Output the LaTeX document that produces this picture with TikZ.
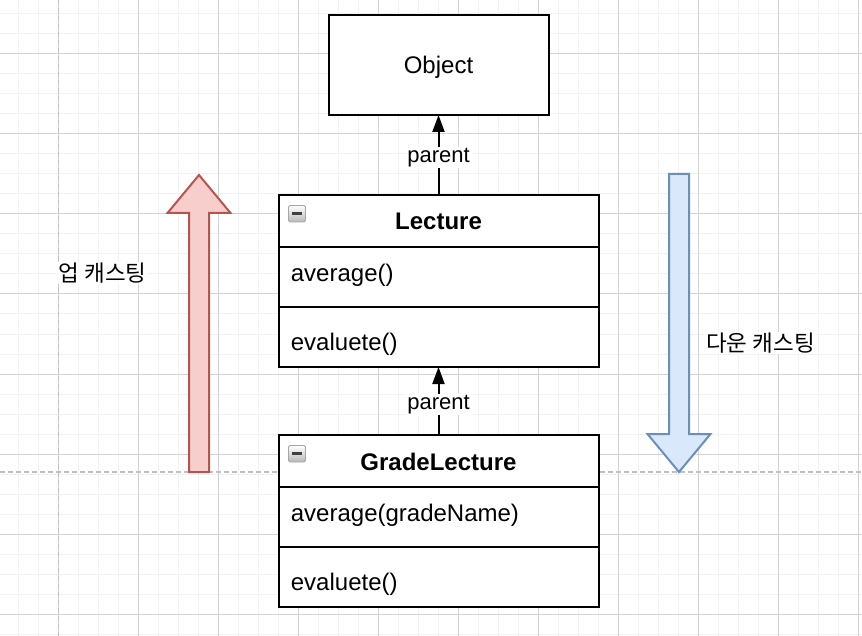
\documentclass[tikz,border=0pt]{standalone}
\usepackage{fontspec}
\setmainfont{Liberation Sans}
\newfontfamily\kor{Noto Sans CJK KR}
\usetikzlibrary{arrows.meta}
\definecolor{cminor}{HTML}{F2F2F2}
\definecolor{cmajor}{HTML}{D3D3D3}
\definecolor{cguide}{HTML}{C0C0C0}
\definecolor{upfill}{HTML}{F8CECC}
\definecolor{updraw}{HTML}{B85450}
\definecolor{downfill}{HTML}{DAE8FC}
\definecolor{downdraw}{HTML}{6C8EBF}
\begin{document}
\begin{tikzpicture}[x=1pt,y=-1pt,
  gminor/.style={cminor, line width=1pt},
  gmajor/.style={cmajor, line width=1pt},
  guideline/.style={cguide, line width=1.3pt, dash pattern=on 5pt off 3pt},
  umlbox/.style={draw=black, line width=2pt, fill=white, inner sep=0pt, outer sep=0pt, minimum width=320pt},
  clsname/.style={font=\fontsize{24}{28}\selectfont\bfseries, inner sep=0pt, anchor=base},
  plaintxt/.style={font=\fontsize{24}{28}\selectfont, inner sep=0pt, anchor=base},
  member/.style={font=\fontsize{24}{28}\selectfont, anchor=base west, inner sep=0pt},
  conn/.style={line width=2pt, -{Triangle[length=17pt,width=12pt]}},
  lbl/.style={font=\fontsize{22}{26}\selectfont, fill=white, inner sep=1.5pt, anchor=base},
  kr/.style={font=\kor\fontsize{22.5}{27}\selectfont, fill=white, inner sep=1pt},
  bigup/.style={draw=updraw, fill=upfill, line width=2pt, line join=miter},
  bigdown/.style={draw=downdraw, fill=downfill, line width=2pt, line join=miter},
  iconbox/.style={draw=black!35, top color=white, bottom color=black!28, line width=0.8pt, rounded corners=1.5pt},
  iconbar/.style={fill=black!75}
]
\useasboundingbox (0,0) rectangle (862,636);
\fill[white] (0,0) rectangle (862,636);
% grid
\foreach \i in {0,...,42} {\draw[gminor] ({18.3+20*\i},0) -- ({18.3+20*\i},636);}
\foreach \i in {0,...,31} {\draw[gminor] (0,{14+20*\i}) -- (862,{14+20*\i});}
\foreach \i in {0,...,10} {\draw[gmajor] ({58.3+80*\i},0) -- ({58.3+80*\i},636);}
\foreach \i in {0,...,7} {\draw[gmajor] (0,{54+80*\i}) -- (862,{54+80*\i});}
% guides
\draw[guideline] (58.5,0) -- (58.5,636);
\draw[guideline] (0,472) -- (862,472);

% big arrows
\draw[bigup] (189,472) -- (189,213) -- (167.5,213) -- (199,175) -- (230.5,213) -- (209,213) -- (209,472) -- cycle;
\draw[bigdown] (669,174) -- (689,174) -- (689,434) -- (710.5,434) -- (679,472) -- (647.5,434) -- (669,434) -- cycle;
\node[kr] (up) at (102.5,273) {업 캐스팅};
\node[kr] (down) at (760.5,343) {다운 캐스팅};

% Object
\node[umlbox, minimum width=220pt, minimum height=100pt] (object) at (438.5,65) {};
\node[plaintxt] (objecttxt) at (438.5,73.3) {Object};

% Lecture
\node[umlbox, minimum height=51.7pt] (lecturehead) at (438.5,220.85) {};
\node[umlbox, minimum height=60.3pt] (lectureattr) at (438.5,276.85) {};
\node[umlbox, minimum height=60pt] (lectureops) at (438.5,337) {};
\node[clsname] (lecturename) at (438.5,230) {Lecture};
\node[member] (lavg) at (290.7,281.7) {average()};
\node[member] (leval) at (290.7,350) {evaluete()};
\shade[iconbox] (288.5,205.5) rectangle (305.5,222);
\fill[iconbar] (291.5,212) rectangle (302,215);

% GradeLecture
\node[umlbox, minimum height=51.7pt] (gradehead) at (438.5,460.85) {};
\node[umlbox, minimum height=60.3pt] (gradeattr) at (438.5,516.85) {};
\node[umlbox, minimum height=60pt] (gradeops) at (438.5,577) {};
\node[clsname] (gradename) at (438.5,470) {GradeLecture};
\node[member] (gavg) at (290.7,521.7) {average(gradeName)};
\node[member] (geval) at (290.7,590) {evaluete()};
\shade[iconbox] (288.5,445.5) rectangle (305.5,462);
\fill[iconbar] (291.5,452) rectangle (302,455);

% connectors
\draw[conn] (lecturehead.north) -- (object.south);
\node[lbl] (p1) at (438.5,162.3) {parent};
\draw[conn] (gradehead.north) -- (lectureops.south);
\node[lbl] (p2) at (438.5,409.3) {parent};
\end{tikzpicture}
\end{document}
